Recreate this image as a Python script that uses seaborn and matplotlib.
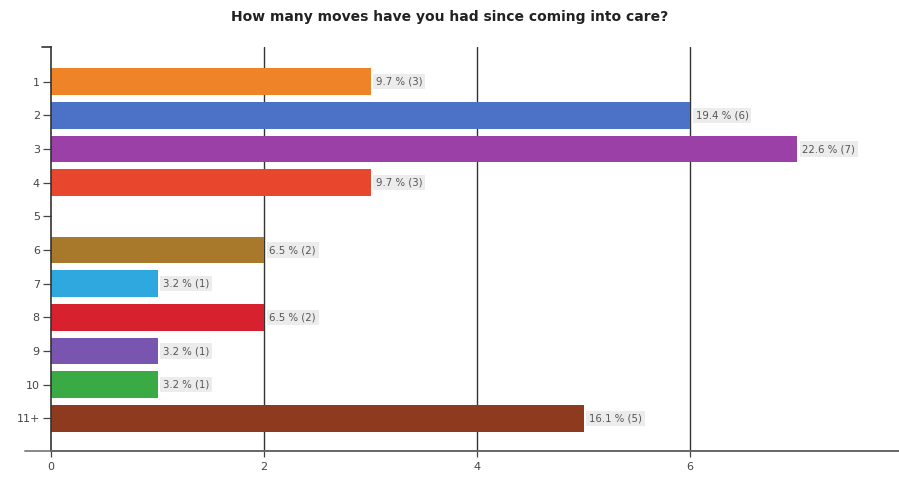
import matplotlib
matplotlib.use("Agg")
import matplotlib.pyplot as plt
import seaborn as sns
import pandas as pd
from matplotlib.lines import Line2D

categories = ["1", "2", "3", "4", "5", "6", "7", "8", "9", "10", "11+"]
counts = [3, 6, 7, 3, 0, 2, 1, 2, 1, 1, 5]
percents = [9.7, 19.4, 22.6, 9.7, 0.0, 6.5, 3.2, 6.5, 3.2, 3.2, 16.1]
colors = ["#EE8427", "#4B72C6", "#9A40A6", "#E8472D", "#888888", "#A8792B",
          "#2FA7DF", "#D8212F", "#7856B0", "#3AAA45", "#8E3A1F"]
x_ticks = [0, 2, 4, 6]
title = "How many moves have you had since coming into care?"

sns.set_theme(style="white")
plt.rcParams["font.family"] = ["DejaVu Sans"]

df = pd.DataFrame({"moves": categories, "count": counts})

fig = plt.figure(figsize=(8.99, 4.82), dpi=100)
ax = fig.add_axes([0.0567, 0.0643, 0.9433, 0.8382])

sns.barplot(data=df, x="count", y="moves", hue="moves", palette=colors,
            legend=False, width=0.8, ax=ax, orient="h", saturation=1,
            linewidth=0, edgecolor="none")

for xv in x_ticks[1:]:
    ax.axvline(xv, color="#333333", lw=1.0, zorder=0)

ax.set_xlim(0, 7.96)
ax.set_ylim(10.97, -1.03)
ax.set_xticks(x_ticks)
ax.set_xticklabels([str(v) for v in x_ticks], fontsize=8, color="#444444")
ax.set_xlabel("")
ax.set_ylabel("")
ax.tick_params(axis="y", length=6, width=0.9, color="#444444", labelsize=8,
               labelcolor="#444444", left=True, pad=2)
ax.tick_params(axis="x", length=4, width=0.9, color="#444444", bottom=True, pad=4)

for side in ["top", "right"]:
    ax.spines[side].set_visible(False)
ax.spines["left"].set_color("#333333")
ax.spines["left"].set_linewidth(1.2)
ax.spines["bottom"].set_color("#666666")
ax.spines["bottom"].set_linewidth(1.4)

# short cap at the top of the category axis and baseline extending left
ax.add_line(Line2D([-0.011, 0], [1, 1], transform=ax.transAxes, color="#333333",
                   lw=1.2, clip_on=False))
ax.add_line(Line2D([-0.031, 0], [0, 0], transform=ax.transAxes, color="#888888",
                   lw=1.4, clip_on=False))

for i, (c, p) in enumerate(zip(counts, percents)):
    if c == 0:
        continue
    ax.text(c + 0.05, i, f"{p:.1f} % ({c})", va="center", ha="left",
            fontsize=7.3, color="#555555",
            bbox=dict(boxstyle="square,pad=0.25", fc="#ececec", ec="none"))

fig.text(0.5, 0.965, title, ha="center", va="center", fontsize=10,
         fontweight="bold", color="#222222")

fig.savefig("out.png", dpi=100)
